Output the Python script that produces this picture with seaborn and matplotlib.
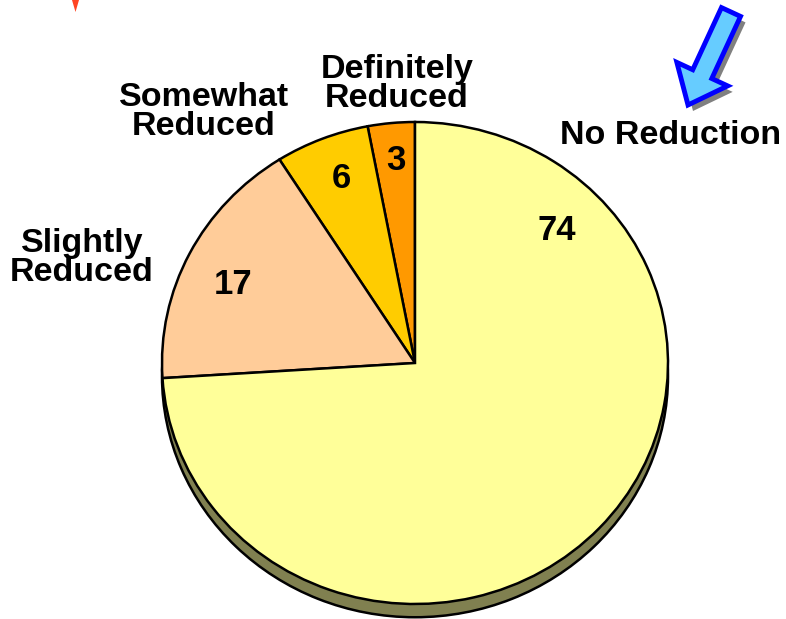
import matplotlib
matplotlib.use("Agg")
import matplotlib.pyplot as plt
import seaborn as sns
from matplotlib.patches import FancyArrow, Polygon

# data
categories = ["Definitely\nReduced", "Somewhat\nReduced", "Slightly\nReduced", "No Reduction"]
values = [3, 6, 17, 74]
slice_colors = ["#FF9900", "#FFCC00", "#FFCC99", "#FFFF99"]

sns.set_theme(style="white")
plt.rcParams["font.family"] = ["Liberation Sans", "DejaVu Sans"]
plt.rcParams["font.weight"] = "bold"

W, H = 786, 619
fig = plt.figure(figsize=(W / 100, H / 100), dpi=100)

# pie axes: unit circle stretched to the slightly wide ellipse of the original
cx, cy, rx, ry = 415, 363, 253, 241
ax = fig.add_axes([(cx - rx) / W, (H - cy - ry) / H, 2 * rx / W, 2 * ry / H])

# 3D-ish depth under the face
ax.pie([sum(values)], colors=["#808050"], center=(0, -0.055), startangle=90,
       wedgeprops=dict(edgecolor="black", linewidth=1.8))
ax.pie(values, colors=slice_colors, startangle=90, counterclock=True,
       wedgeprops=dict(edgecolor="black", linewidth=1.8))
ax.set_aspect("auto")
ax.set_xlim(-1, 1)
ax.set_ylim(-1, 1)
ax.axis("off")

# value labels inside slices
value_pos = [(-0.075, 0.84), (-0.292, 0.767), (-0.719, 0.325), (0.561, 0.55)]
for v, (x, y) in zip(values, value_pos):
    ax.text(x, y, str(v), ha="center", va="center", fontsize=25,
            fontweight="bold", color="black")

# overlay in pixel coordinates for category labels and decorations
ov = fig.add_axes([0, 0, 1, 1], facecolor="none")
ov.set_xlim(0, W)
ov.set_ylim(H, 0)
ov.axis("off")

label_pos = [(397, 84), (204, 112), (82, 258), (671, 136)]
for lab, (x, y) in zip(categories, label_pos):
    ov.text(x, y, lab, ha="center", va="center", fontsize=24.5,
            fontweight="bold", linespacing=0.88, color="black")

# blue arrow pointing at "No Reduction"
arrow_kw = dict(width=21, head_width=56, head_length=34, length_includes_head=True)
ov.add_patch(FancyArrow(736, 18, -43, 93, fc="#808080", ec="none", **arrow_kw))
ov.add_patch(FancyArrow(731, 12, -43, 93, fc="#66CCFF", ec="#0000FF", lw=3.5, **arrow_kw))

# cut-off red arrow tip at top left
ov.add_patch(Polygon([(72, 0), (79, 0), (75.5, 12)], closed=True, fc="#FF4422", ec="none"))

fig.savefig("out.png", dpi=100)
